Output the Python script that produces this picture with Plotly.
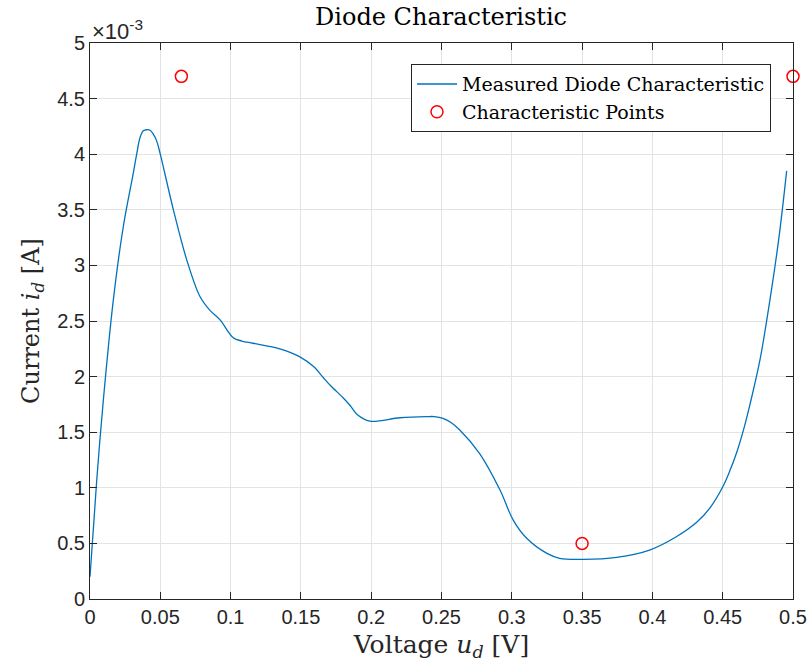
import plotly.graph_objects as go

# Measured diode characteristic (voltage in V, current in units of 1e-3 A)
voltage = [0, 0.0048, 0.0095, 0.0166, 0.0237, 0.0308, 0.0332, 0.0356, 0.0379, 0.0403,
           0.0427, 0.0450, 0.0474, 0.0498, 0.0593, 0.0688, 0.0782, 0.0850, 0.0925, 0.1019,
           0.1080, 0.116, 0.135, 0.149, 0.159, 0.166, 0.171, 0.180, 0.185, 0.190,
           0.199, 0.2205, 0.2395, 0.245, 0.251, 0.257, 0.263, 0.277, 0.2916, 0.301,
           0.3106, 0.325, 0.334, 0.351, 0.3746, 0.398, 0.417, 0.4315, 0.441, 0.4497,
           0.455, 0.46, 0.465, 0.4694, 0.4765, 0.4836, 0.49, 0.4955]
current_e3 = [0.2, 1.07, 1.79, 2.69, 3.35, 3.83, 4.00, 4.15, 4.21, 4.22,
              4.215, 4.18, 4.12, 4.01, 3.50, 3.05, 2.72, 2.60, 2.51, 2.35,
              2.32, 2.30, 2.25, 2.18, 2.09, 1.99, 1.92, 1.81, 1.74, 1.66,
              1.60, 1.63, 1.64, 1.64, 1.625, 1.585, 1.52, 1.31, 0.98, 0.71,
              0.546, 0.41, 0.366, 0.357, 0.375, 0.44, 0.56, 0.69, 0.82, 1.0,
              1.15, 1.32, 1.53, 1.75, 2.15, 2.69, 3.25, 3.85]

# Characteristic points
point_v = [0.065, 0.35, 0.5]
point_i_e3 = [4.7, 0.5, 4.7]

x_ticks = [0, 0.05, 0.1, 0.15, 0.2, 0.25, 0.3, 0.35, 0.4, 0.45, 0.5]
x_ticklabels = ["0", "0.05", "0.1", "0.15", "0.2", "0.25", "0.3", "0.35", "0.4", "0.45", "0.5"]
y_ticks = [0, 0.5, 1, 1.5, 2, 2.5, 3, 3.5, 4, 4.5, 5]
y_ticklabels = ["0", "0.5", "1", "1.5", "2", "2.5", "3", "3.5", "4", "4.5", "5"]

SERIF = "DejaVu Serif"
SANS = "Liberation Sans"
DARK = "#262626"
GRID = "#e3e3e3"

fig = go.Figure()
fig.add_trace(go.Scatter(
    x=voltage, y=current_e3, mode="lines",
    line=dict(color="#0072BD", width=1.3, shape="spline", smoothing=1.0),
    name="Measured Diode Characteristic",
))
fig.add_trace(go.Scatter(
    x=point_v, y=point_i_e3, mode="markers",
    marker=dict(symbol="circle-open", color="#FF0000", size=12, line=dict(width=1.5, color="#FF0000")),
    name="Characteristic Points", cliponaxis=False,
))

axis_common = dict(
    showline=True, linecolor=DARK, linewidth=1, mirror="allticks",
    ticks="inside", ticklen=7, tickcolor=DARK, tickwidth=1,
    showgrid=True, gridcolor=GRID, gridwidth=1, zeroline=False,
    tickfont=dict(family=SANS, size=20, color=DARK),
)

fig.update_layout(
    width=810, height=671,
    margin=dict(l=90, r=17, t=43, b=72, autoexpand=False),
    paper_bgcolor="white", plot_bgcolor="white",
    title=dict(text="Diode Characteristic", x=0.5445, xanchor="center", y=0.988, yanchor="top",
               font=dict(family=SERIF, size=24, color="black")),
    xaxis=dict(range=[0, 0.5], tickvals=x_ticks, ticktext=x_ticklabels, automargin=False,
               title=dict(text="Voltage <i>u</i><sub><i>d</i></sub> [V]", standoff=8,
                          font=dict(family=SERIF, size=25, color=DARK)),
               **axis_common),
    yaxis=dict(range=[0, 5], tickvals=y_ticks, ticktext=y_ticklabels, automargin=False,
               title=dict(text="Current <i>i</i><sub><i>d</i></sub> [A]", standoff=10,
                          font=dict(family=SERIF, size=24, color=DARK)),
               **axis_common),
    legend=dict(x=0.4566, y=0.962, xanchor="left", yanchor="top",
                bgcolor="white", bordercolor=DARK, borderwidth=1,
                font=dict(family=SERIF, size=19, color="black"),
                tracegroupgap=0, itemwidth=40),
    showlegend=True,
)

fig.add_annotation(
    text="×10<sup>-3</sup>", xref="paper", yref="paper", x=0, y=1,
    xanchor="left", yanchor="bottom", showarrow=False, yshift=-3,
    font=dict(family=SANS, size=22, color=DARK),
)

fig.write_html("out.html")
